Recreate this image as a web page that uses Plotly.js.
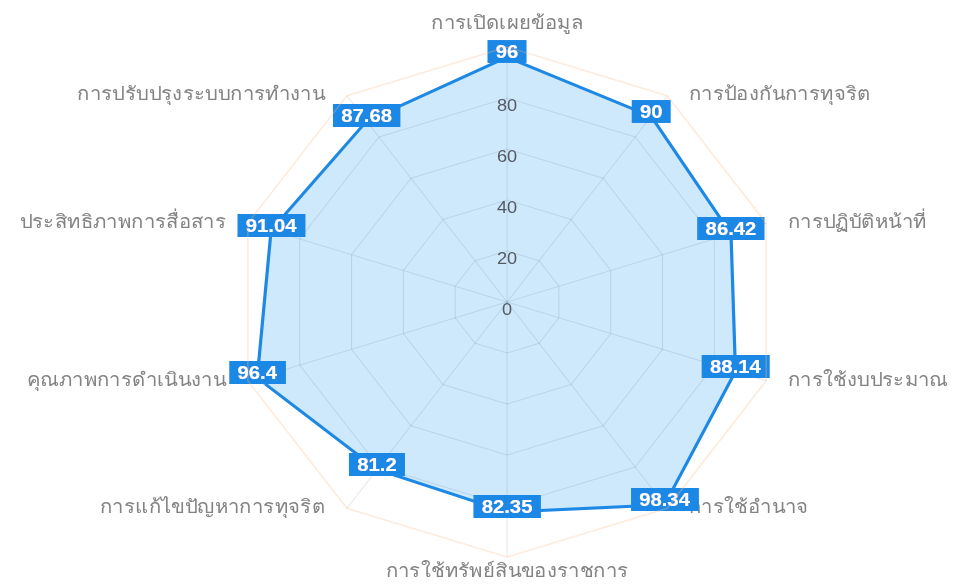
<!DOCTYPE html>
<html>
<head>
<meta charset="utf-8">
<script src="https://cdn.plot.ly/plotly-3.0.1.min.js"></script>
<style>
  html, body { margin: 0; padding: 0; background: #fff; overflow: hidden; }
  #wrap { width: 955px; height: 584px; overflow: hidden; }
  /* the reference picture is horizontally stretched; reproduce that stretch */
  #chart { width: 893px; height: 584px; transform: scaleX(1.0686); transform-origin: 0 0; }
</style>
</head>
<body>
<svg width="0" height="0" style="position:absolute">
  <defs>
    <filter id="labelbox" x="-70%" y="-90%" width="240%" height="280%">
      <feMorphology in="SourceAlpha" operator="dilate" radius="60 5" result="rows"/>
      <feMorphology in="SourceAlpha" operator="dilate" radius="8 40" result="cols"/>
      <feComposite in="rows" in2="cols" operator="in" result="grown"/>
      <feOffset in="grown" dx="0" dy="6" result="grownShift"/>
      <feFlood flood-color="#1e88e5" result="blue"/>
      <feComposite in="blue" in2="grownShift" operator="in" result="bg"/>
      <feOffset in="SourceGraphic" dx="0" dy="6" result="txt"/>
      <feMerge>
        <feMergeNode in="bg"/>
        <feMergeNode in="txt"/>
      </feMerge>
    </filter>
  </defs>
</svg>
<div id="wrap"><div id="chart"></div></div>
<script>
const categories = [
  'การเปิดเผยข้อมูล',
  'การป้องกันการทุจริต',
  'การปฏิบัติหน้าที่',
  'การใช้งบประมาณ',
  'การใช้อำนาจ',
  'การใช้ทรัพย์สินของราชการ',
  'การแก้ไขปัญหาการทุจริต',
  'คุณภาพการดำเนินงาน',
  'ประสิทธิภาพการสื่อสาร',
  'การปรับปรุงระบบการทำงาน'
];
const scores = [96, 90, 86.42, 88.14, 98.34, 82.35, 81.2, 96.4, 91.04, 87.68];
const radialTicks = [0, 20, 40, 60, 80];
const radialTickLabels = ['0', '20', '40', '60', '80'];
const RMAX = 100;

const blue = '#1e88e5';

// point-label placement (Chart.js style): centred at top/bottom, left/right aligned on the sides
const nCat = categories.length;
const angleOf = i => i * 360 / nCat;
const catPos = categories.map((c, i) => {
  const a = angleOf(i);
  if (a === 0) return 'top center';
  if (a === 180) return 'bottom center';
  return a < 180 ? 'middle right' : 'middle left';
});
const catGap = categories.map((c, i) => {
  const a = angleOf(i);
  if (a === 0) return 20;
  if (a === 180) return 8;
  return 31;
});

const traces = [
  {
    type: 'scatterpolar',
    r: scores.concat([scores[0]]),
    theta: categories.concat([categories[0]]),
    mode: 'lines',
    fill: 'toself',
    fillcolor: 'rgba(33,150,243,0.22)',
    line: { color: blue, width: 3 },
    hoverinfo: 'skip'
  },
  {
    type: 'scatterpolar',
    subplot: 'polar2',
    r: radialTicks,
    theta: radialTicks.map(() => categories[0]),
    mode: 'text',
    text: radialTickLabels,
    textposition: 'bottom center',
    textfont: { family: 'Arial', size: 17, color: '#555b63' },
    cliponaxis: false,
    hoverinfo: 'skip'
  },
  {
    type: 'scatterpolar',
    r: categories.map(() => RMAX),
    theta: categories,
    mode: 'markers+text',
    marker: { size: catGap, color: 'rgba(0,0,0,0)' },
    text: categories,
    textposition: catPos,
    textfont: { family: 'Tahoma, "Noto Sans", sans-serif', size: 19, color: '#838383' },
    cliponaxis: false,
    hoverinfo: 'skip'
  },
  {
    type: 'scatterpolar',
    r: scores,
    theta: categories,
    mode: 'text',
    text: scores.map(v => String(v)),
    textposition: 'top center',
    textfont: { family: 'Arial', size: 19, color: '#ffffff', weight: 'bold' },
    cliponaxis: false,
    hoverinfo: 'skip'
  }
];

const W = 893, H = 584, cx = 474.5, cy = 302, R = 255;
const domain = {
  x: [(cx - R) / W, (cx + R) / W],
  y: [(H - cy - R) / H, (H - cy + R) / H]
};
const layout = {
  width: W,
  height: H,
  margin: { l: 0, r: 0, t: 0, b: 0 },
  paper_bgcolor: '#ffffff',
  showlegend: false,
  polar: {
    domain: domain,
    bgcolor: '#ffffff',
    gridshape: 'linear',
    radialaxis: {
      range: [0, RMAX],
      tickvals: [20, 40, 60, 80],
      showticklabels: false,
      ticks: '',
      showline: false,
      gridcolor: 'rgba(0,0,0,0.1)',
      gridwidth: 1,
      angle: 90
    },
    angularaxis: {
      direction: 'clockwise',
      rotation: 90,
      showline: true,
      linecolor: 'rgba(250,190,140,0.3)',
      linewidth: 1.5,
      gridcolor: 'rgba(0,0,0,0.1)',
      ticks: '',
      showticklabels: false
    }
  },
  // transparent overlay sharing the same frame, used only for the radial tick labels
  polar2: {
    domain: domain,
    bgcolor: 'rgba(0,0,0,0)',
    gridshape: 'circular',
    radialaxis: { range: [0, RMAX], visible: false },
    angularaxis: { direction: 'clockwise', rotation: 90, visible: false }
  }
};

Plotly.newPlot('chart', traces, layout, { displayModeBar: false, staticPlot: true }).then(() => {
  const tr = document.querySelectorAll('.scatterlayer .trace');
  let labelTrace = null;
  tr.forEach(g => {
    const t = g.querySelector('.textpoint text');
    if (t && t.textContent === String(scores[0])) labelTrace = g;
  });
  if (labelTrace) {
    labelTrace.querySelectorAll('.textpoint text').forEach(t => t.setAttribute('filter', 'url(#labelbox)'));
  }
});
</script>
</body>
</html>
